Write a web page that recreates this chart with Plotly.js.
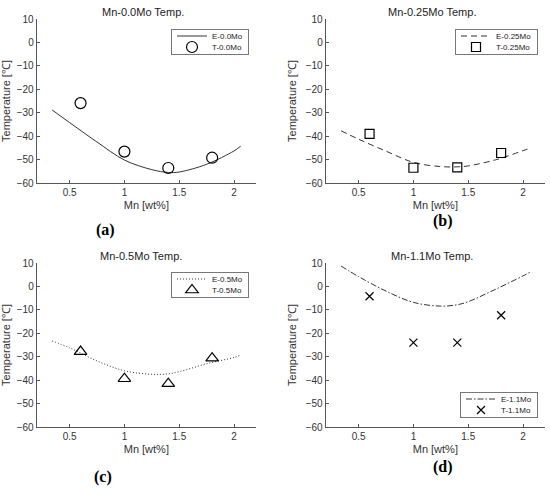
<!DOCTYPE html>
<html>
<head>
<meta charset="utf-8">
<script src="https://cdn.plot.ly/plotly-3.0.1.min.js"></script>
<style>html,body{margin:0;padding:0;background:#fff;}#chart{width:550px;height:488px;}</style>
</head>
<body>
<div id="chart"></div>
<script>
// ---- data ----
const mnPoints = [0.6, 1.0, 1.4, 1.8];
const mnCurve = [0.34, 0.5, 0.75, 1.0, 1.25, 1.4, 1.5, 1.75, 2.0, 2.06];

const e00 = [-28.8, -34.2, -42.5, -50.2, -54.3, -55.5, -55.3, -52.0, -46.3, -44.3];
const t00 = [-25.9, -46.6, -53.6, -49.2];

const e025 = [-37.7, -41.3, -46.4, -51.2, -53.0, -53.1, -52.7, -50.1, -46.2, -45.2];
const t025 = [-39.0, -53.5, -53.3, -47.2];

const e05 = [-23.3, -26.2, -31.8, -36.0, -37.5, -37.3, -36.4, -33.0, -30.3, -29.3];
const t05 = [-27.8, -39.4, -41.5, -30.6];

const e11 = [8.7, 4.2, -2.0, -6.8, -8.4, -7.8, -6.5, -1.2, 4.5, 6.0];
const t11 = [-4.2, -24.0, -24.0, -12.3];

const panelTitles = ['Mn-0.0Mo Temp.', 'Mn-0.25Mo Temp.', 'Mn-0.5Mo Temp.', 'Mn-1.1Mo Temp.'];
const eNames = ['E-0.0Mo', 'E-0.25Mo', 'E-0.5Mo', 'E-1.1Mo'];
const tNames = ['T-0.0Mo', 'T-0.25Mo', 'T-0.5Mo', 'T-1.1Mo'];
const panelLabels = ['(a)', '(b)', '(c)', '(d)'];
const xTicks = [0.5, 1, 1.5, 2];
const yTicks = [-60, -50, -40, -30, -20, -10, 0, 10];
const xTitle = 'Mn [wt%]';
const yTitle = 'Temperature [℃]';

// ---- build ----
const W = 550, H = 488;
const eData = [e00, e025, e05, e11];
const tData = [t00, t025, t05, t11];
const dashes = ['solid', '6px,4px', '1px,2px', '6px,2px,1.5px,2px'];
const symbols = ['circle-open', 'square-open', 'triangle-up-open', 'x-thin-open'];
const msizes = [11, 9, 11, 8];

// panel pixel boxes [left, right, top, bottom]
const boxes = [
  [36.7, 256, 19, 183],
  [325.7, 545, 19, 183],
  [36.7, 256, 263, 427],
  [325.7, 545, 263, 427]
];
const legendPos = [
  [249, 29], [538, 29], [249, 272], [538, 392]
];
const titlePos = [[143, 12], [432, 12], [141, 256], [432, 256]];
const labelPos = [[105, 230], [443, 221], [103, 477], [443, 467]];

const font = 'Liberation Sans, Arial, Helvetica, sans-serif';
const traces = [];
const layout = {
  width: W, height: H,
  margin: {l: 0, r: 0, t: 0, b: 0},
  paper_bgcolor: '#fff', plot_bgcolor: '#fff',
  showlegend: true,
  annotations: [],
  font: {family: font, color: '#333'}
};

for (let i = 0; i < 4; i++) {
  const sfx = i === 0 ? '' : String(i + 1);
  const lg = 'legend' + sfx;
  traces.push({
    x: mnCurve, y: eData[i], type: 'scatter', mode: 'lines', name: eNames[i],
    xaxis: 'x' + sfx, yaxis: 'y' + sfx, legend: lg,
    line: {color: '#333', width: 1, dash: dashes[i], shape: 'spline', smoothing: 1}
  });
  traces.push({
    x: mnPoints, y: tData[i], type: 'scatter', mode: 'markers', name: tNames[i],
    xaxis: 'x' + sfx, yaxis: 'y' + sfx, legend: lg,
    marker: {symbol: symbols[i], size: msizes[i], color: '#000', line: {color: '#000', width: 1.2}}
  });
  const b = boxes[i];
  const common = {
    showline: true, linecolor: '#555', linewidth: 1, ticks: 'inside', ticklen: 3,
    tickcolor: '#555', showgrid: false, zeroline: false, mirror: false,
    tickfont: {family: font, size: 10, color: '#333'}
  };
  layout['xaxis' + sfx] = Object.assign({}, common, {
    domain: [b[0] / W, b[1] / W], range: [0.2, 2.2], tickvals: xTicks,
    anchor: 'y' + sfx,
    title: {text: xTitle, font: {family: font, size: 11, color: '#333'}, standoff: 4}
  });
  layout['yaxis' + sfx] = Object.assign({}, common, {
    domain: [1 - b[3] / H, 1 - b[2] / H], range: [-60, 10], tickvals: yTicks,
    anchor: 'x' + sfx,
    title: {text: yTitle, font: {family: font, size: 11, color: '#333'}, standoff: 6}
  });
  layout[lg] = {
    x: legendPos[i][0] / W, y: 1 - legendPos[i][1] / H, xanchor: 'right', yanchor: 'top',
    bgcolor: '#fff', bordercolor: '#777', borderwidth: 1,
    font: {family: font, size: 8, color: '#222'}, itemwidth: 30, tracegroupgap: 0
  };
  layout.annotations.push({
    text: panelTitles[i], xref: 'paper', yref: 'paper', showarrow: false,
    x: titlePos[i][0] / W, y: 1 - titlePos[i][1] / H, xanchor: 'center', yanchor: 'middle',
    font: {family: font, size: 11, color: '#222'}
  });
  layout.annotations.push({
    text: '<b>' + panelLabels[i] + '</b>', xref: 'paper', yref: 'paper', showarrow: false,
    x: labelPos[i][0] / W, y: 1 - labelPos[i][1] / H, xanchor: 'center', yanchor: 'middle',
    font: {family: 'Liberation Serif, Times New Roman, serif', size: 16, color: '#000'}
  });
}

// compact legend rows (Plotly enforces a minimum row height)
function compactLegends(gd) {
  const groups = gd.querySelectorAll('.infolayer > g');
  groups.forEach(function (g) {
    const cls = g.getAttribute('class') || '';
    if (!/^legend\d*$/.test(cls)) return;
    const items = g.querySelectorAll('g.traces');
    const rowGap = 11, firstY = 7;
    items.forEach(function (it, k) {
      const t = it.getAttribute('transform') || '';
      const m = /translate\(\s*([-\d.]+)[ ,]+([-\d.]+)\s*\)/.exec(t);
      const x = m ? parseFloat(m[1]) : 0;
      it.setAttribute('transform', 'translate(' + x + ',' + (firstY + k * rowGap) + ')');
    });
    const bg = g.querySelector('rect.bg');
    if (bg) bg.setAttribute('height', String(firstY + (items.length - 1) * rowGap + 6.5));
  });
}

Plotly.newPlot('chart', traces, layout, {staticPlot: true, displayModeBar: false})
  .then(function (gd) { compactLegends(gd); });
</script>
</body>
</html>
